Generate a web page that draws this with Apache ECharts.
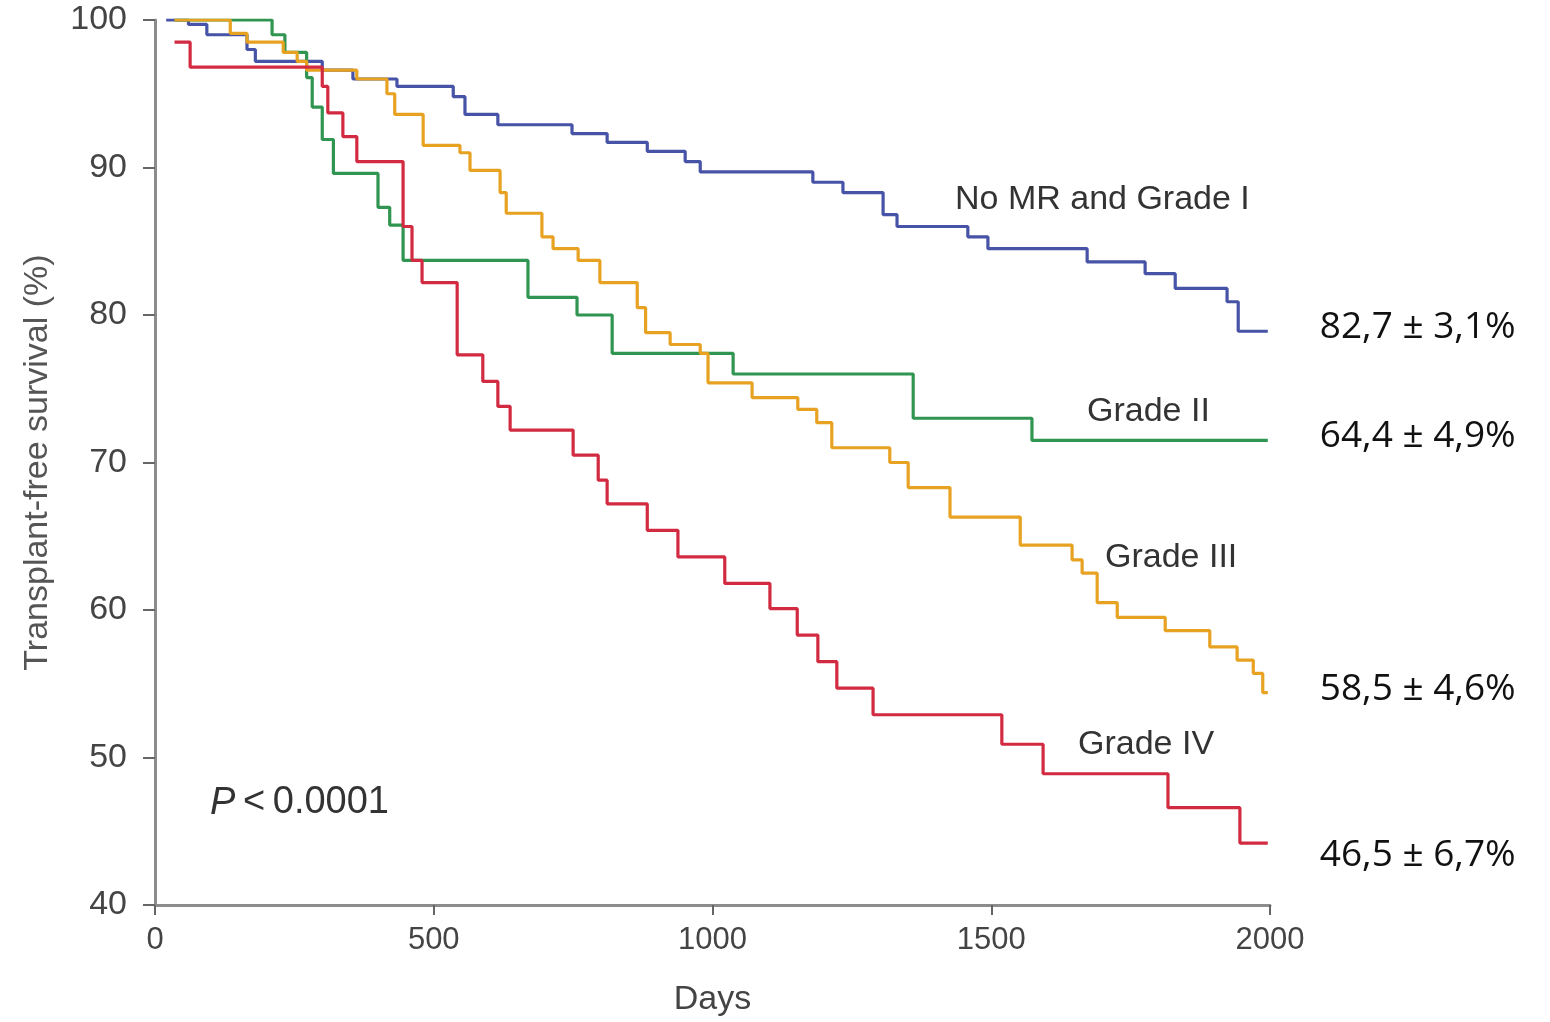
<!DOCTYPE html>
<html>
<head>
<meta charset="utf-8">
<title>Transplant-free survival</title>
<script src="https://cdn.jsdelivr.net/npm/echarts@6/dist/echarts.min.js"></script>
<style>
  html, body { margin: 0; padding: 0; background: #fff; }
  #chart { width: 1550px; height: 1022px; }
</style>
</head>
<body>
<div id="chart"></div>
<script>
// Kaplan-Meier steps (day, survival %)
const gradeIDays = [20, 60, 93, 165, 180, 300, 355, 434, 535, 556, 615, 748, 811, 883, 951, 978, 1180, 1234, 1306, 1331, 1458, 1494, 1672, 1776, 1830, 1923, 1943, 1996]
const gradeIVals = [100, 99.7, 99.0, 98.0, 97.2, 96.6, 96.0, 95.5, 94.8, 93.6, 92.9, 92.3, 91.7, 91.1, 90.4, 89.7, 89.0, 88.3, 86.8, 86.0, 85.3, 84.5, 83.6, 82.8, 81.8, 80.9, 78.9, 78.9]

const gradeIIDays = [35, 210, 233, 272, 282, 300, 320, 400, 421, 445, 669, 757, 820, 1037, 1360, 1573, 1996]
const gradeIIVals = [100, 99.0, 97.8, 96.1, 94.1, 91.9, 89.6, 87.3, 86.1, 83.7, 81.2, 80.0, 77.4, 76.0, 73.0, 71.5, 71.5]

const gradeIIIDays = [35, 135, 165, 230, 255, 272, 362, 416, 430, 481, 547, 565, 619, 630, 694, 714, 759, 798, 865, 880, 924, 978, 992, 1071, 1153, 1187, 1214, 1318, 1351, 1426, 1552, 1645, 1663, 1690, 1726, 1812, 1892, 1941, 1970, 1987, 1996]
const gradeIIIVals = [100, 99.1, 98.5, 97.8, 97.2, 96.6, 96.0, 95.0, 93.6, 91.5, 91.0, 89.8, 88.3, 86.9, 85.3, 84.5, 83.7, 82.2, 80.5, 78.8, 78.0, 77.4, 75.4, 74.4, 73.6, 72.7, 71.0, 70.0, 68.3, 66.3, 64.4, 63.4, 62.5, 60.5, 59.5, 58.6, 57.5, 56.6, 55.7, 54.4, 54.4]

const gradeIVDays = [35, 63, 300, 310, 337, 362, 445, 461, 479, 542, 588, 615, 637, 750, 795, 811, 883, 938, 1022, 1103, 1152, 1189, 1223, 1288, 1519, 1593, 1817, 1946, 1996]
const gradeIVVals = [98.5, 96.8, 95.5, 93.7, 92.1, 90.4, 86.0, 83.7, 82.2, 77.3, 75.5, 73.8, 72.2, 70.5, 68.8, 67.2, 65.4, 63.6, 61.8, 60.1, 58.3, 56.5, 54.7, 52.9, 50.9, 48.9, 46.6, 44.2, 44.2]

const groupNames = ['No MR and Grade I', 'Grade II', 'Grade III', 'Grade IV']
const endTexts = ['82,7 ± 3,1%', '64,4 ± 4,9%', '58,5 ± 4,6%', '46,5 ± 6,7%']
const colors = ['#4753a6', '#2f9550', '#e8a222', '#d22a40']

const sans = '"Liberation Sans", Arial, sans-serif'

function zip (days, vals) {
  return days.map((d, i) => [d, vals[i]])
}

function kmSeries (idx, days, vals, labelOffset) {
  return {
    name: groupNames[idx],
    type: 'line',
    step: 'end',
    showSymbol: false,
    silent: true,
    data: zip(days, vals),
    lineStyle: { color: colors[idx], width: 3.2 },
    endLabel: {
      show: true,
      formatter: endTexts[idx],
      distance: 0,
      offset: labelOffset,
      fontSize: 37,
      fontFamily: '"Open Sans", sans-serif',
      color: '#111'
    }
  }
}

const axisGray = '#8c8c8c'

const option = {
  animation: false,
  backgroundColor: '#fff',
  grid: {
    left: 155,
    right: 280,
    top: 20,
    bottom: 117,
    outerBoundsMode: 'none'
  },
  xAxis: {
    type: 'value',
    min: 0,
    max: 2000,
    interval: 500,
    name: 'Days',
    nameLocation: 'middle',
    nameGap: 78,
    nameTextStyle: { fontSize: 34, fontFamily: sans, color: '#444' },
    axisLine: { lineStyle: { color: axisGray, width: 3 } },
    axisTick: { length: 10, lineStyle: { color: '#666', width: 2 } },
    axisLabel: { fontSize: 31, fontFamily: sans, color: '#444', margin: 20, formatter: v => String(v) },
    splitLine: { show: false }
  },
  yAxis: {
    type: 'value',
    min: 40,
    max: 100,
    interval: 10,
    name: 'Transplant-free survival (%)',
    nameLocation: 'middle',
    nameRotate: 90,
    nameGap: 100,
    nameTextStyle: { fontSize: 34, fontFamily: sans, color: '#555' },
    axisLine: { show: true, lineStyle: { color: axisGray, width: 3 } },
    axisTick: { show: true, length: 12, lineStyle: { color: '#666', width: 2 } },
    axisLabel: { fontSize: 34, fontFamily: sans, color: '#444', margin: 28 },
    splitLine: { show: false }
  },
  graphic: [
    { type: 'text', x: 955, y: 200, style: { text: groupNames[0], font: '34px ' + sans, fill: '#333', verticalAlign: 'middle' } },
    { type: 'text', x: 1087, y: 412, style: { text: groupNames[1], font: '34px ' + sans, fill: '#333', verticalAlign: 'middle' } },
    { type: 'text', x: 1105, y: 558, style: { text: groupNames[2], font: '34px ' + sans, fill: '#333', verticalAlign: 'middle' } },
    { type: 'text', x: 1078, y: 745, style: { text: groupNames[3], font: '34px ' + sans, fill: '#333', verticalAlign: 'middle' } },
    {
      type: 'text',
      x: 210,
      y: 803,
      style: {
        text: '{i|P}\u2009<\u20090.0001',
        fontSize: 38,
        fontFamily: sans,
        fill: '#333',
        verticalAlign: 'middle',
        rich: { i: { fontStyle: 'italic', fontSize: 38, fontFamily: sans, fill: '#333' } }
      }
    }
  ],
  series: [
    kmSeries(0, gradeIDays, gradeIVals, [52, -4]),
    kmSeries(1, gradeIIDays, gradeIIVals, [52, -4]),
    kmSeries(2, gradeIIIDays, gradeIIIVals, [52, -3]),
    kmSeries(3, gradeIVDays, gradeIVVals, [52, 12])
  ]
}

const myChart = echarts.init(document.getElementById('chart'))
myChart.setOption(option)
</script>
</body>
</html>
